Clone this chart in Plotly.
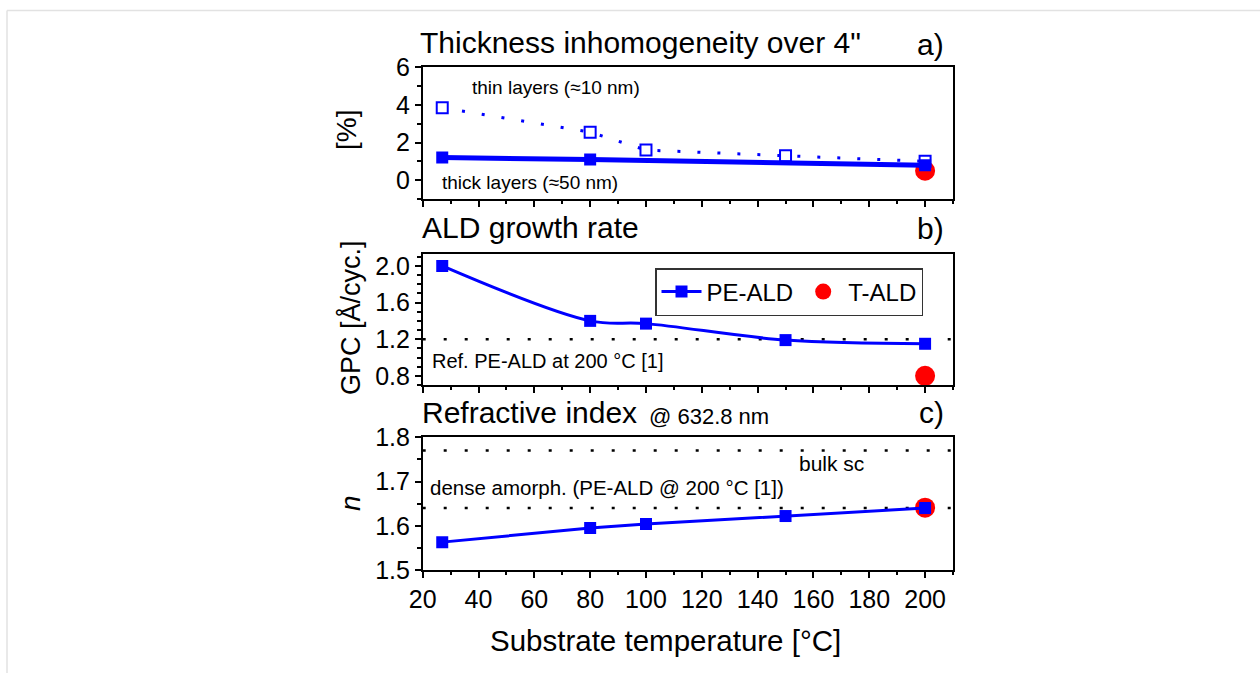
import plotly.graph_objects as go

W, H = 1260, 673

# ---------------- data ----------------
temp_thin = [27, 80, 100, 150, 200]
inhom_thin = [3.85, 2.55, 1.6, 1.3, 1.0]
temp_thick = [27, 80, 200]
inhom_thick = [1.2, 1.1, 0.8]
tald_temp = [200]
tald_inhom = [0.5]

temp_pe = [27, 80, 100, 150, 200]
gpc_pe = [2.0, 1.40, 1.37, 1.19, 1.15]
gpc_t = [0.8]
gpc_ref = 1.2

n_pe = [1.563, 1.595, 1.604, 1.622, 1.640]
n_t = [1.641]
n_bulk = 1.77
n_dense = 1.64

FONT = "Arial, Liberation Sans, sans-serif"
BLUE = "#0000ff"
RED = "#ff0000"


def px(x):
    return x / W


def py(y):
    return 1 - y / H


fig = go.Figure()

# panel a (top)
fig.add_trace(go.Scatter(x=tald_temp, y=tald_inhom, mode="markers",
                         marker=dict(symbol="circle", size=20, color=RED),
                         xaxis="x", yaxis="y", showlegend=False))
fig.add_trace(go.Scatter(x=temp_thin, y=inhom_thin, mode="lines+markers",
                         line=dict(color=BLUE, width=3, dash="3px,17px"),
                         marker=dict(symbol="square", size=11, color="white",
                                     line=dict(width=2, color=BLUE)),
                         xaxis="x", yaxis="y", showlegend=False))
fig.add_trace(go.Scatter(x=temp_thick, y=inhom_thick, mode="lines+markers",
                         line=dict(color=BLUE, width=5),
                         marker=dict(symbol="square", size=12, color=BLUE),
                         xaxis="x", yaxis="y", showlegend=False))

# panel b (middle)
fig.add_trace(go.Scatter(x=temp_pe, y=gpc_pe, mode="lines+markers", name="PE-ALD",
                         line=dict(color=BLUE, width=3, shape="spline", smoothing=1.0),
                         marker=dict(symbol="square", size=12, color=BLUE),
                         xaxis="x2", yaxis="y2", showlegend=True))
fig.add_trace(go.Scatter(x=tald_temp, y=gpc_t, mode="markers", name="T-ALD",
                         marker=dict(symbol="circle", size=20, color=RED),
                         xaxis="x2", yaxis="y2", showlegend=True))

# panel c (bottom)
fig.add_trace(go.Scatter(x=tald_temp, y=n_t, mode="markers",
                         marker=dict(symbol="circle", size=20, color=RED),
                         xaxis="x3", yaxis="y3", showlegend=False))
fig.add_trace(go.Scatter(x=temp_pe, y=n_pe, mode="lines+markers",
                         line=dict(color=BLUE, width=3),
                         marker=dict(symbol="square", size=12, color=BLUE),
                         xaxis="x3", yaxis="y3", showlegend=False))

xdom = [px(422.7), px(953)]
common_x = dict(range=[20, 210], domain=xdom, showline=True, mirror=True,
                linecolor="black", linewidth=1.5, ticks="outside", ticklen=6,
                tickwidth=1.5, tickcolor="black", tick0=20, dtick=20,
                showgrid=False, zeroline=False, automargin=False,
                minor=dict(ticks="outside", ticklen=3.5, tickwidth=1.5,
                           tickcolor="black", dtick=10, tick0=20, showgrid=False),
                tickfont=dict(family=FONT, size=25, color="black"))
common_y = dict(showline=True, mirror=True, linecolor="black", linewidth=1.5,
                ticks="outside", ticklen=6, tickwidth=1.5, tickcolor="black",
                showgrid=False, zeroline=False, automargin=False,
                tickfont=dict(family=FONT, size=25, color="black"))

fig.update_layout(
    template="none",
    width=W, height=H, autosize=False,
    margin=dict(l=0, r=0, t=0, b=0, pad=0, autoexpand=False),
    paper_bgcolor="white", plot_bgcolor="white",
    font=dict(family=FONT, color="black"),
    xaxis=dict(common_x, anchor="y", showticklabels=False),
    xaxis2=dict(common_x, anchor="y2", showticklabels=False),
    xaxis3=dict(common_x, anchor="y3", showticklabels=True),
    yaxis=dict(common_y, anchor="x", domain=[py(199), py(67.3)], range=[-1, 6],
               tick0=0, dtick=2,
               minor=dict(ticks="outside", ticklen=3.5, tickwidth=1.5,
                          tickcolor="black", dtick=1, tick0=0, showgrid=False)),
    yaxis2=dict(common_y, anchor="x2", domain=[py(385), py(254)], range=[0.7, 2.13],
                tick0=0.8, dtick=0.4, tickformat=".1f",
                minor=dict(ticks="outside", ticklen=3.5, tickwidth=1.5,
                           tickcolor="black", dtick=0.1, tick0=0.8, showgrid=False)),
    yaxis3=dict(common_y, anchor="x3", domain=[py(570), py(437.3)], range=[1.5, 1.8],
                tick0=1.5, dtick=0.1, tickformat=".1f",
                minor=dict(ticks="outside", ticklen=3.5, tickwidth=1.5,
                           tickcolor="black", dtick=0.05, tick0=1.5, showgrid=False)),
    legend=dict(x=px(655), y=py(268), xanchor="left", yanchor="top",
                orientation="h", bordercolor="#333333", borderwidth=1.5,
                bgcolor="white", font=dict(family=FONT, size=24, color="black"),
                itemwidth=40, tracegroupgap=0),
)

# reference dotted lines
dot = dict(color="black", width=2.5, dash="3px,18px")
fig.add_shape(type="line", xref="x2 domain", yref="y2", x0=0, x1=1,
              y0=gpc_ref, y1=gpc_ref, line=dot, layer="below")
fig.add_shape(type="line", xref="x3 domain", yref="y3", x0=0, x1=1,
              y0=n_bulk, y1=n_bulk, line=dot, layer="below")
fig.add_shape(type="line", xref="x3 domain", yref="y3", x0=0, x1=1,
              y0=n_dense, y1=n_dense, line=dot, layer="below")

# page frame
fig.add_shape(type="line", xref="paper", yref="paper", x0=px(7), x1=1,
              y0=py(10.5), y1=py(10.5), line=dict(color="#e2e2e2", width=1.5))
fig.add_shape(type="line", xref="paper", yref="paper", x0=px(7), x1=px(7),
              y0=py(10.5), y1=0, line=dict(color="#e2e2e2", width=1.5))


def ann(text, x, y, size, xanchor="left", angle=0):
    fig.add_annotation(text=text, x=px(x), y=py(y), xref="paper", yref="paper",
                       xanchor=xanchor, yanchor="middle", showarrow=False,
                       textangle=angle,
                       font=dict(family=FONT, size=size, color="black"))


ann('Thickness inhomogeneity over 4"', 418, 42, 30)
ann("a)", 946, 45, 30, xanchor="right")
ann("ALD growth rate", 420, 227, 30)
ann("b)", 946, 228, 30, xanchor="right")
ann("Refractive index", 420, 412, 30)
ann("@ 632.8 nm", 647, 416, 22)
ann("c)", 946, 412, 30, xanchor="right")

ann("[%]", 346, 130, 28, xanchor="center", angle=-90)
ann("GPC [Å/cyc.]", 350, 318, 27, xanchor="center", angle=-90)
ann("<i>n</i>", 350, 503, 28, xanchor="center", angle=-90)
ann("Substrate temperature [°C]", 665, 640, 29.5, xanchor="center")

ann("thin layers (≈10 nm)", 470, 88, 19)
ann("thick layers (≈50 nm)", 440, 183, 19)
ann("Ref. PE-ALD at 200 °C [1]", 430, 361, 20)
ann("bulk sc", 797, 463, 21)
ann("dense amorph. (PE-ALD @ 200 °C [1])", 428, 487, 20.5)

fig.write_html("out.html", config={"displayModeBar": False},
               post_script="document.body.style.margin='0';")
